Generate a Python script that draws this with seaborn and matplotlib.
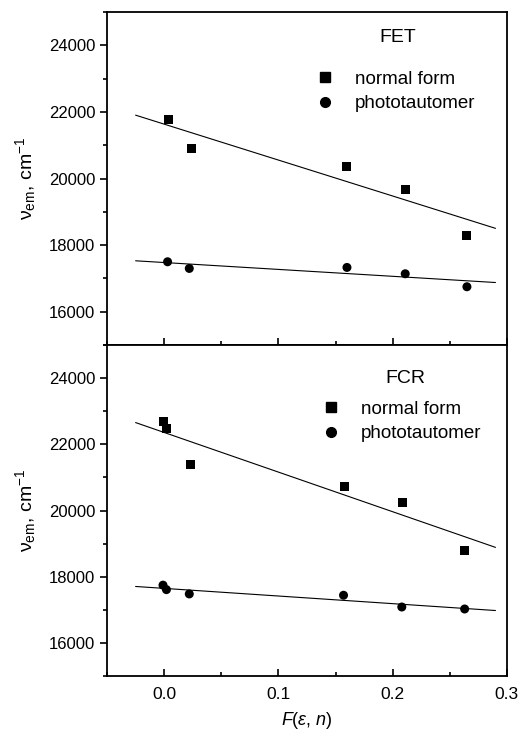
import numpy as np
import pandas as pd
import matplotlib
matplotlib.use("Agg")
import matplotlib.pyplot as plt
import seaborn as sns
from matplotlib.ticker import MultipleLocator

sns.set_style("ticks", {"axes.edgecolor": "black", "text.color": "black",
                        "xtick.color": "black", "ytick.color": "black",
                        "axes.labelcolor": "black"})
plt.rcParams['font.family'] = ['Liberation Sans', 'DejaVu Sans']
plt.rcParams['mathtext.fontset'] = 'custom'
plt.rcParams['mathtext.rm'] = 'Liberation Sans'
plt.rcParams['mathtext.it'] = 'Liberation Sans:italic'

# data
fet_x_normal = [0.004, 0.024, 0.160, 0.211, 0.265]
fet_y_normal = [21780, 20900, 20360, 19670, 18290]
fet_x_photo = [0.003, 0.022, 0.160, 0.211, 0.265]
fet_y_photo = [17500, 17300, 17330, 17140, 16750]

fcr_x_normal = [-0.001, 0.002, 0.023, 0.158, 0.209, 0.263]
fcr_y_normal = [22690, 22470, 21380, 20730, 20250, 18800]
fcr_x_photo = [-0.001, 0.002, 0.022, 0.157, 0.208, 0.263]
fcr_y_photo = [17745, 17610, 17480, 17440, 17085, 17025]

panels = [
    ("FET", fet_x_normal, fet_y_normal, fet_x_photo, fet_y_photo),
    ("FCR", fcr_x_normal, fcr_y_normal, fcr_x_photo, fcr_y_photo),
]
# title / legend placement per panel (axes fractions)
title_pos = [(0.7275, 0.922), (0.745, 0.90)]
legend_pos = [(0.48, 0.847), (0.495, 0.855)]

fig = plt.figure(figsize=(5.18, 7.36), dpi=100)
ax_top = fig.add_axes([0.2066, 0.5312, 0.772, 0.4525])
ax_bot = fig.add_axes([0.2066, 0.0815, 0.772, 0.4497], sharex=ax_top)

line_x = np.array([-0.025, 0.29])

for i, (ax, (name, xn, yn, xp, yp)) in enumerate(zip([ax_top, ax_bot], panels)):
    df = pd.concat([
        pd.DataFrame({"x": xn, "y": yn, "form": "normal form"}),
        pd.DataFrame({"x": xp, "y": yp, "form": "phototautomer"}),
    ])
    sns.scatterplot(data=df, x="x", y="y", style="form",
                    markers={"normal form": "s", "phototautomer": "o"},
                    color="black", s=42, edgecolor="black", linewidth=0,
                    ax=ax, legend=False)
    # linear fits
    for xs, ys in [(xn, yn), (xp, yp)]:
        k, b = np.polyfit(xs, ys, 1)
        sns.lineplot(x=line_x, y=k * line_x + b, color="black", lw=0.8, ax=ax)

    ax.set_xlim(-0.05, 0.3)
    ax.set_ylim(15000, 25000)
    ax.yaxis.set_major_locator(MultipleLocator(2000))
    ax.yaxis.set_minor_locator(MultipleLocator(1000))
    ax.xaxis.set_major_locator(MultipleLocator(0.1))
    ax.xaxis.set_minor_locator(MultipleLocator(0.05))
    ax.tick_params(axis='y', which='major', direction='out', length=5, width=1.2, labelsize=12)
    ax.tick_params(axis='y', which='minor', direction='out', length=3, width=1.2)
    ax.tick_params(axis='x', which='major', direction='in', length=5, width=1.2, labelsize=12.5, pad=8)
    ax.tick_params(axis='x', which='minor', direction='in', length=3, width=1.2)
    for sp in ax.spines.values():
        sp.set_visible(True)
        sp.set_linewidth(1.3)
        sp.set_color("black")
    ax.set_ylabel(r"ν$_{\mathrm{em}}$, cm$^{\mathrm{-1}}$", fontsize=14, labelpad=8)
    ax.set_xlabel("")

    ax.text(*title_pos[i], name, transform=ax.transAxes, fontsize=14, ha="center", va="center")
    handles = [
        plt.Line2D([], [], ls="", marker="s", color="black", markersize=6.5),
        plt.Line2D([], [], ls="", marker="o", color="black", markersize=7),
    ]
    ax.legend(handles, ["normal form", "phototautomer"], frameon=False,
              loc="upper left", bbox_to_anchor=legend_pos[i], fontsize=13.5,
              handletextpad=0.6, labelspacing=0.4, borderaxespad=0)

ax_top.tick_params(axis='x', labelbottom=False)
ax_bot.set_xlabel(r"$F(\varepsilon$, $n)$", fontsize=13, labelpad=6)

fig.savefig("out.png", dpi=100)
